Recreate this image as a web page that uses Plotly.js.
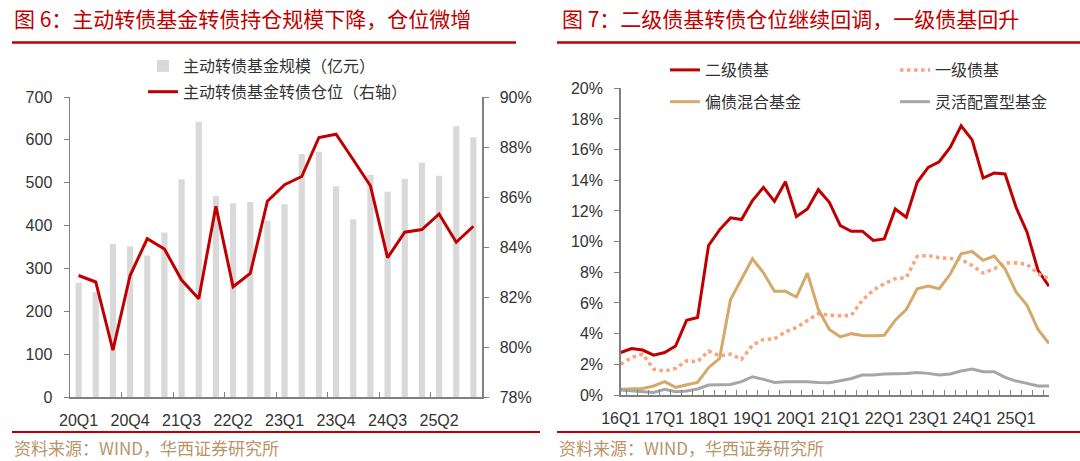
<!DOCTYPE html>
<html><head><meta charset="utf-8">
<script src="https://cdn.plot.ly/plotly-3.0.1.min.js"></script>
<style>html,body{margin:0;padding:0;background:#fff}</style>
</head><body><div id="chart" style="width:1080px;height:461px"></div>
<script>
// ---- Left chart data ----
const leftQuarters = ['20Q1','20Q2','20Q3','20Q4','21Q1','21Q2','21Q3','21Q4','22Q1','22Q2','22Q3','22Q4',
  '23Q1','23Q2','23Q3','23Q4','24Q1','24Q2','24Q3','24Q4','25Q1','25Q2','25Q3','25Q4'];
const fundScale = [267,245,357,352,330,384,508,642,469,452,455,411,450,567,572,492,415,518,479,509,547,516,632,606];
const fundPosition = [82.86,82.6,79.87,82.86,84.33,83.92,82.68,81.93,85.63,82.41,82.94,85.83,86.49,86.82,88.38,88.51,87.49,86.45,83.57,84.59,84.7,85.32,84.19,84.83];

// ---- Right chart data ----
const rightQuarters = ['16Q1','16Q2','16Q3','16Q4','17Q1','17Q2','17Q3','17Q4','18Q1','18Q2','18Q3','18Q4',
  '19Q1','19Q2','19Q3','19Q4','20Q1','20Q2','20Q3','20Q4','21Q1','21Q2','21Q3','21Q4',
  '22Q1','22Q2','22Q3','22Q4','23Q1','23Q2','23Q3','23Q4','24Q1','24Q2','24Q3','24Q4',
  '25Q1','25Q2','25Q3','25Q4'];
const rightTickText = ['16Q1','','','','17Q1','','','','18Q1','','','','19Q1','','','','20Q1','','','',
  '21Q1','','','','22Q1','','','','23Q1','','','','24Q1','','','','25Q1','','',''];
const secondaryBond = [2.77,3.03,2.93,2.6,2.77,3.19,4.88,5.05,9.75,10.77,11.55,11.44,12.68,13.54,12.63,13.91,
  11.64,12.13,13.39,12.57,11.05,10.68,10.68,10.08,10.18,12.13,11.59,13.87,14.84,15.21,16.14,17.55,
  16.64,14.15,14.47,14.41,12.24,10.62,8.13,7.09];
const primaryBond = [2.0,2.45,2.67,1.69,1.56,1.73,2.23,2.17,2.86,2.56,2.67,2.32,3.25,3.62,3.66,4.12,
  4.4,4.83,5.31,5.2,5.16,5.2,6.18,6.83,7.26,7.58,7.65,9.04,9.1,8.95,8.88,8.84,
  8.45,7.95,8.23,8.6,8.62,8.52,7.91,7.58];
const hybridBond = [0.37,0.39,0.43,0.59,0.87,0.5,0.65,0.82,1.78,2.38,6.22,7.58,8.88,7.97,6.76,6.76,
  6.39,7.95,5.57,4.27,3.79,4.0,3.88,3.86,3.9,4.88,5.57,6.93,7.11,6.93,7.87,9.21,
  9.36,8.78,9.06,8.23,6.72,5.85,4.27,3.36];
const flexibleFund = [0.33,0.28,0.26,0.17,0.37,0.22,0.26,0.39,0.65,0.65,0.69,0.87,1.19,1.02,0.82,0.87,
  0.87,0.87,0.82,0.8,0.93,1.08,1.3,1.3,1.37,1.37,1.41,1.47,1.41,1.3,1.37,1.56,
  1.69,1.52,1.52,1.15,0.91,0.76,0.59,0.59];

const W = 1080, H = 461;
const px = v => v / W;
const py = v => 1 - v / H;
const RED = '#C00000';
const CJK = '"Noto Sans CJK SC", sans-serif';
const NUM = '"Liberation Sans", Arial, sans-serif';
const AX = '#808080';
const tickFont = {family: NUM, size: 16, color: '#333333'};
const legFont = {family: CJK, size: 16, color: '#333333'};

const traces = [
  {type: 'bar', x: leftQuarters, y: fundScale, name: '主动转债基金规模（亿元）',
   marker: {color: '#D9D9D9'}, xaxis: 'x', yaxis: 'y', legend: 'legend', legendgroup: 'a'},
  {type: 'scatter', mode: 'lines', x: leftQuarters, y: fundPosition, name: '主动转债基金转债仓位（右轴）',
   line: {color: RED, width: 3}, xaxis: 'x', yaxis: 'y2', legend: 'legend', legendgroup: 'b'},
  {type: 'scatter', mode: 'lines', x: rightQuarters, y: secondaryBond, name: '二级债基',
   line: {color: RED, width: 3}, xaxis: 'x3', yaxis: 'y3', legend: 'legend2', legendgroup: 'c'},
  {type: 'scatter', mode: 'lines', x: rightQuarters, y: primaryBond, name: '一级债基',
   line: {color: '#F8A57E', width: 3.5, dash: 'dot'}, xaxis: 'x3', yaxis: 'y3', legend: 'legend3', legendgroup: 'd'},
  {type: 'scatter', mode: 'lines', x: rightQuarters, y: hybridBond, name: '偏债混合基金',
   line: {color: '#D4A96A', width: 3}, xaxis: 'x3', yaxis: 'y3', legend: 'legend2', legendgroup: 'e'},
  {type: 'scatter', mode: 'lines', x: rightQuarters, y: flexibleFund, name: '灵活配置型基金',
   line: {color: '#A6A6A6', width: 3}, xaxis: 'x3', yaxis: 'y3', legend: 'legend3', legendgroup: 'f'}
];

const legBase = {xref: 'container', yref: 'container', xanchor: 'left', yanchor: 'top', orientation: 'v',
  font: legFont, bgcolor: 'rgba(0,0,0,0)', borderwidth: 0};

const layout = {
  width: W, height: H,
  margin: {l: 0, r: 0, t: 0, b: 0, pad: 0, autoexpand: false},
  paper_bgcolor: '#fff', plot_bgcolor: 'rgba(0,0,0,0)',
  bargap: 0.64,
  xaxis: {domain: [px(70), px(482)], anchor: 'y', type: 'category',
    tickmode: 'linear', tick0: 0, dtick: 3, tickson: 'boundaries', tickangle: 0,
    ticks: 'inside', ticklen: 5, tickcolor: AX, showline: true, linecolor: AX, linewidth: 1.5,
    showgrid: false, tickfont: tickFont, ticklabelstandoff: 8, zeroline: false, automargin: false},
  yaxis: {domain: [py(397), py(97)], anchor: 'x', range: [0, 700], dtick: 100,
    ticks: 'outside', ticklen: 5, tickcolor: AX, showline: true, linecolor: AX, linewidth: 1.5,
    showgrid: false, zeroline: false, tickfont: tickFont, ticklabelstandoff: 8, automargin: false},
  yaxis2: {overlaying: 'y', side: 'right', anchor: 'x', range: [78, 90], dtick: 2, ticksuffix: '%',
    ticks: 'outside', ticklen: 5, tickcolor: AX, showline: true, linecolor: AX, linewidth: 1.5,
    showgrid: false, zeroline: false, tickfont: tickFont, ticklabelstandoff: 8, automargin: false},
  xaxis3: {domain: [px(620.7), px(1049)], anchor: 'y3', type: 'category',
    tickmode: 'array', tickvals: rightQuarters, ticktext: rightTickText, tickson: 'boundaries', tickangle: 0,
    ticks: 'inside', ticklen: 5, tickcolor: AX, showline: true, linecolor: AX, linewidth: 1.5,
    showgrid: false, tickfont: tickFont, ticklabelstandoff: 8, zeroline: false, automargin: false},
  yaxis3: {domain: [py(395), py(88.3)], anchor: 'x3', range: [0, 20], dtick: 2, ticksuffix: '%',
    ticks: 'outside', ticklen: 5, tickcolor: AX, showline: true, linecolor: AX, linewidth: 1.5,
    showgrid: false, zeroline: false, tickfont: tickFont, ticklabelstandoff: 8, automargin: false},
  legend: Object.assign({}, legBase, {x: px(143), y: py(49), tracegroupgap: 2}),
  legend2: Object.assign({}, legBase, {x: px(665), y: py(53), tracegroupgap: 8}),
  legend3: Object.assign({}, legBase, {x: px(895), y: py(53), tracegroupgap: 8}),
  annotations: [
    {text: '图 6：主动转债基金转债持仓规模下降，仓位微增', xref: 'paper', yref: 'paper', x: px(12), y: py(18),
     xanchor: 'left', yanchor: 'middle', showarrow: false, font: {family: CJK, size: 21, color: RED}},
    {text: '图 7：二级债基转债仓位继续回调，一级债基回升', xref: 'paper', yref: 'paper', x: px(560), y: py(18),
     xanchor: 'left', yanchor: 'middle', showarrow: false, font: {family: CJK, size: 21, color: RED}},
    {text: '资料来源：WIND，华西证券研究所', xref: 'paper', yref: 'paper', x: px(12), y: py(447),
     xanchor: 'left', yanchor: 'middle', showarrow: false, font: {family: CJK, size: 17, color: '#B8956A'}},
    {text: '资料来源：WIND，华西证券研究所', xref: 'paper', yref: 'paper', x: px(557), y: py(447),
     xanchor: 'left', yanchor: 'middle', showarrow: false, font: {family: CJK, size: 17, color: '#B8956A'}}
  ],
  shapes: [
    {type: 'line', xref: 'paper', yref: 'paper', x0: px(12), x1: px(516), y0: py(42.5), y1: py(42.5), line: {color: RED, width: 2.5}},
    {type: 'line', xref: 'paper', yref: 'paper', x0: px(557), x1: px(1080), y0: py(42.5), y1: py(42.5), line: {color: RED, width: 2.5}},
    {type: 'line', xref: 'paper', yref: 'paper', x0: px(12), x1: px(540), y0: py(432), y1: py(432), line: {color: RED, width: 2}},
    {type: 'line', xref: 'paper', yref: 'paper', x0: px(557), x1: px(1080), y0: py(432), y1: py(432), line: {color: RED, width: 2}}
  ]
};

Plotly.newPlot('chart', traces, layout, {displayModeBar: false, staticPlot: true});
</script></body></html>
